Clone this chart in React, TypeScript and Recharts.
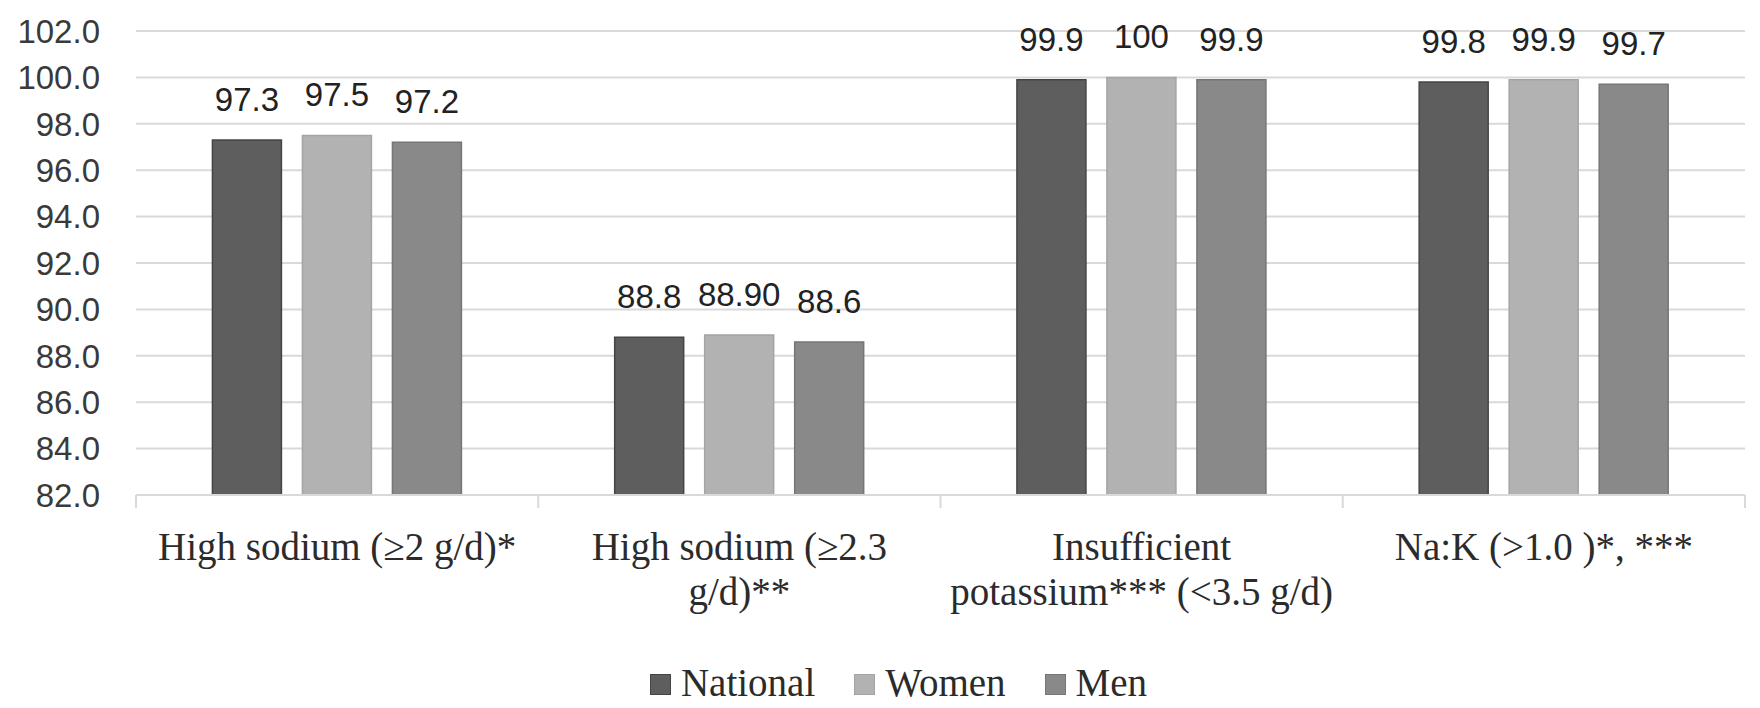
import React from 'react';
import { BarChart, Bar, XAxis, YAxis, CartesianGrid, Legend, LabelList } from 'recharts';

const categories = [
  'High sodium (≥2 g/d)*',
  'High sodium (≥2.3\ng/d)**',
  'Insufficient\npotassium*** (<3.5 g/d)',
  'Na:K (>1.0 )*, ***',
];
const national = [97.3, 88.8, 99.9, 99.8];
const women = [97.5, 88.9, 100, 99.9];
const men = [97.2, 88.6, 99.9, 99.7];
const nationalLabels = ['97.3', '88.8', '99.9', '99.8'];
const womenLabels = ['97.5', '88.90', '100', '99.9'];
const menLabels = ['97.2', '88.6', '99.9', '99.7'];
const yTicks = [82, 84, 86, 88, 90, 92, 94, 96, 98, 100, 102];

const series = [
  { key: 'national', label: 'nationalLabel', name: 'National', fill: '#5e5e5e', stroke: '#454545' },
  { key: 'women', label: 'womenLabel', name: 'Women', fill: '#b2b2b2', stroke: '#a4a4a4' },
  { key: 'men', label: 'menLabel', name: 'Men', fill: '#898989', stroke: '#767676' },
];

const data = categories.map((c, i) => ({
  category: c,
  national: national[i],
  women: women[i],
  men: men[i],
  nationalLabel: nationalLabels[i],
  womenLabel: womenLabels[i],
  menLabel: menLabels[i],
}));

const serif = '"Liberation Serif", "Times New Roman", serif';
const sans = '"Liberation Sans", Arial, sans-serif';
const gridColor = '#d9d9d9';

// category label + the small boundary ticks between groups
function CategoryTick(props: any) {
  const { x, y, payload, index } = props;
  const lines = String(payload.value).split('\n');
  const half = payload.offset || 0;
  return (
    <g>
      <line x1={x - half} x2={x - half} y1={y} y2={y + 13} stroke={gridColor} strokeWidth={2} />
      {index === categories.length - 1 && (
        <line x1={x + half} x2={x + half} y1={y} y2={y + 13} stroke={gridColor} strokeWidth={2} />
      )}
      <text x={x} y={y} textAnchor="middle" fontFamily={serif} fontSize={39} fill="#2b2b2b">
        {lines.map((l, i) => (
          <tspan key={i} x={x} dy={i === 0 ? 65 : 45}>
            {l}
          </tspan>
        ))}
      </text>
    </g>
  );
}

function LegendContent() {
  return (
    <div
      style={{
        display: 'flex',
        justifyContent: 'center',
        alignItems: 'center',
        height: 36,
        paddingLeft: 44,
        fontFamily: serif,
        fontSize: 39,
        color: '#2b2b2b',
      }}
    >
      {series.map((s, i) => (
        <div
          key={s.key}
          style={{ display: 'flex', alignItems: 'center', marginRight: i < series.length - 1 ? 39 : 0 }}
        >
          <span
            style={{
              display: 'inline-block',
              width: 21,
              height: 21,
              background: s.fill,
              border: `1px solid ${s.stroke}`,
              boxSizing: 'border-box',
              marginRight: 10,
              marginTop: 4,
            }}
          />
          <span>{s.name}</span>
        </div>
      ))}
    </div>
  );
}

export default function App() {
  return (
    <BarChart
      width={1744}
      height={692}
      data={data}
      margin={{ top: 23, right: 7, bottom: 0, left: 0 }}
      barCategoryGap="19%"
      barGap={21}
    >
      <CartesianGrid vertical={false} stroke={gridColor} strokeWidth={2} />
      <XAxis
        dataKey="category"
        height={169}
        interval={0}
        tickLine={false}
        tickSize={0}
        tickMargin={0}
        axisLine={{ stroke: gridColor, strokeWidth: 2 }}
        tick={<CategoryTick />}
      />
      <YAxis
        domain={[82, 102]}
        ticks={yTicks}
        allowDataOverflow
        width={128}
        axisLine={false}
        tickLine={false}
        tickSize={0}
        tickMargin={36}
        tickFormatter={(v: number) => v.toFixed(1)}
        tick={{ fontFamily: sans, fontSize: 33, fill: '#3a3a3a' }}
      />
      <Legend verticalAlign="bottom" height={36} content={<LegendContent />} />
      {series.map((s) => (
        <Bar
          key={s.key}
          dataKey={s.key}
          name={s.name}
          fill={s.fill}
          stroke={s.stroke}
          strokeWidth={1.5}
          isAnimationActive={false}
        >
          <LabelList
            dataKey={s.label}
            position="top"
            offset={29}
            style={{ fontFamily: sans, fontSize: 33, fill: '#222222' }}
          />
        </Bar>
      ))}
    </BarChart>
  );
}
